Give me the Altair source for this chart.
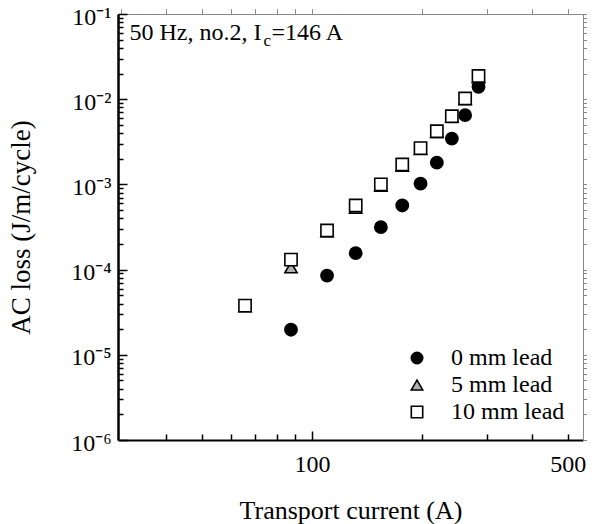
import altair as alt
import pandas as pd

# ---- data ----
x_0mm = [87.6, 109.9, 131.6, 154.2, 176.4, 197.9, 219.3, 241, 262, 285]
y_0mm = [1.97e-5, 8.5e-5, 1.56e-4, 3.15e-4, 5.66e-4, 1.02e-3, 1.80e-3, 3.45e-3, 6.49e-3, 1.40e-2]
x_5mm = [65.6, 87.6, 109.9, 131.6, 154.2, 176.4, 197.9, 219.3, 241, 262, 285]
y_5mm = [3.7e-5, 1.06e-4, 2.8e-4, 5.3e-4, 9.6e-4, 1.65e-3, 2.6e-3, 4.1e-3, 6.2e-3, 1.0e-2, 1.8e-2]
x_10mm = [65.6, 87.6, 109.9, 131.6, 154.2, 176.4, 197.9, 219.3, 241, 262, 285]
y_10mm = [3.77e-5, 1.31e-4, 2.88e-4, 5.66e-4, 1.0e-3, 1.71e-3, 2.67e-3, 4.21e-3, 6.31e-3, 1.02e-2, 1.87e-2]
series_names = ["0 mm lead", "5 mm lead", "10 mm lead"]

x_label_ticks = [100, 500]
x_major_ticks = [100]
x_minor_ticks = [40, 50, 60, 70, 80, 90, 200, 300, 400, 500]
y_major_ticks = [1e-6, 1e-5, 1e-4, 1e-3, 1e-2, 1e-1]
y_minor_ticks = [k * d for d in [1e-6, 1e-5, 1e-4, 1e-3, 1e-2] for k in range(2, 10)]

rows = []
for name, xs, ys in zip(series_names, [x_0mm, x_5mm, x_10mm], [y_0mm, y_5mm, y_10mm]):
    for a, b in zip(xs, ys):
        rows.append({"current": a, "loss": b, "series": name})
df = pd.DataFrame(rows)

FONT = "Liberation Serif"
W, H = 465, 426

xscale = alt.Scale(type="log", domain=[29.5, 550], nice=False)
yscale = alt.Scale(type="log", domain=[1e-6, 1e-1], nice=False)

ylabel_expr = ("'10' + ['\u207b\u2070','\u207b\u00b9','\u207b\u00b2','\u207b\u00b3',"
               "'\u207b\u2074','\u207b\u2075','\u207b\u2076'][round(-log(datum.value)/LN10)]")

base = alt.Chart(df)

def legend():
    return alt.Legend(title=None, orient="none", legendX=287, legendY=332,
                      labelFont=FONT, labelFontSize=24, labelColor="black",
                      symbolSize=130, symbolStrokeWidth=1.6, labelOffset=22, rowPadding=3)

points = base.mark_point(size=150, strokeWidth=1.6, opacity=1, filled=False).encode(
    x=alt.X("current:Q", scale=xscale,
            axis=alt.Axis(values=x_label_ticks, ticks=False, grid=False, title="Transport current (A)",
                          labelFont=FONT, labelFontSize=24, labelColor="black", labelPadding=12,
                          titleFont=FONT, titleFontSize=26, titleFontWeight="normal", titleColor="black",
                          titlePadding=21, domainColor="black", domainWidth=2)),
    y=alt.Y("loss:Q", scale=yscale,
            axis=alt.Axis(values=y_major_ticks, tickSize=alt.ExprRef("-9"), tickColor="black", tickWidth=1.5,
                          grid=False, labelExpr=ylabel_expr, title="AC loss (J/m/cycle)",
                          labelFont=FONT, labelFontSize=24, labelColor="black", labelPadding=16,
                          labelOffset=3,
                          titleFont=FONT, titleFontSize=27, titleFontWeight="normal", titleColor="black",
                          titlePadding=35, domainColor="black", domainWidth=2.5)),
    shape=alt.Shape("series:N", scale=alt.Scale(domain=series_names, range=["circle", "triangle-up", "square"]),
                    legend=legend()),
    fill=alt.Fill("series:N", scale=alt.Scale(domain=series_names, range=["black", "#b0b0b0", "white"]),
                  legend=legend()),
    stroke=alt.Stroke("series:N", scale=alt.Scale(domain=series_names, range=["black", "black", "black"]),
                      legend=legend()),
)

ghost1 = base.mark_point(opacity=0).encode(
    x=alt.X("current:Q", scale=xscale,
            axis=alt.Axis(values=x_major_ticks, tickSize=alt.ExprRef("-9"), tickColor="black", tickWidth=1.5,
                          labels=False, domain=False, grid=False, title=None, orient="bottom")),
    y=alt.Y("loss:Q", scale=yscale,
            axis=alt.Axis(values=y_minor_ticks, tickSize=alt.ExprRef("-5"), tickColor="black", tickWidth=1.5,
                          labels=False, domain=False, grid=False, title=None, orient="left")),
)

ghost2 = base.mark_point(opacity=0).encode(
    x=alt.X("current:Q", scale=xscale,
            axis=alt.Axis(values=x_minor_ticks, tickSize=alt.ExprRef("-6"), tickColor="black", tickWidth=1.5,
                          labels=False, domain=False, grid=False, title=None, orient="bottom")),
    y=alt.Y("loss:Q", scale=yscale, axis=None),
)

ann_df = pd.DataFrame({"current": [31.7], "loss": [0.0494]})
ann1 = alt.Chart(ann_df).mark_text(align="left", baseline="alphabetic", font=FONT, fontSize=24,
                                    color="black").encode(
    x=alt.X("current:Q", scale=xscale), y=alt.Y("loss:Q", scale=yscale), text=alt.value("50 Hz, no.2, I"))
ann2 = alt.Chart(ann_df).mark_text(align="left", baseline="alphabetic", font=FONT, fontSize=17,
                                    color="black", dx=134, dy=6).encode(
    x=alt.X("current:Q", scale=xscale), y=alt.Y("loss:Q", scale=yscale), text=alt.value("c"))
ann3 = alt.Chart(ann_df).mark_text(align="left", baseline="alphabetic", font=FONT, fontSize=24,
                                    color="black", dx=142).encode(
    x=alt.X("current:Q", scale=xscale), y=alt.Y("loss:Q", scale=yscale), text=alt.value("=146 A"))

chart = alt.layer(points, ghost1, ghost2, ann1, ann2, ann3).resolve_axis(
    x="independent", y="independent"
).properties(
    width=W, height=H,
    autosize=alt.AutoSizeParams(type="none"),
    padding={"left": 110, "top": 6, "right": 4, "bottom": 84},
).configure_view(stroke="black", strokeWidth=1.5).configure(background="white")

chart.save("out.html", embed_options={"renderer": "svg", "actions": False})
